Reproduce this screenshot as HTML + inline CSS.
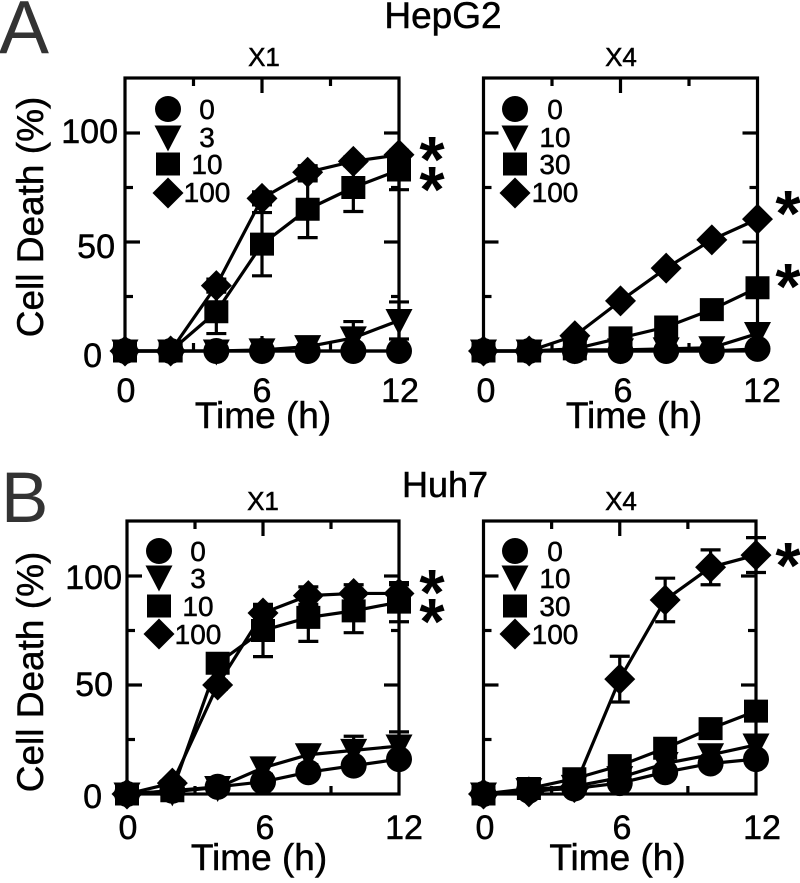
<!DOCTYPE html>
<html>
<head>
<meta charset="utf-8">
<title>Cell Death Time Course</title>
<style>
html,body{margin:0;padding:0;background:#fff;width:800px;height:883px;overflow:hidden}
svg{display:block}
text{font-family:"Liberation Sans",Arial,sans-serif;fill:#000;stroke:#000;stroke-width:.5px}
</style>
</head>
<body>
<svg id="figure" xmlns="http://www.w3.org/2000/svg" width="800" height="883" viewBox="0 0 800 883">
<rect x="0" y="0" width="800" height="883" fill="#fff"/>
<text x="-1" y="53" font-size="75" style="fill:#333;stroke:none">A</text>
<text x="1" y="522" font-size="71" style="fill:#333;stroke:none">B</text>
<text x="443" y="28" font-size="37" text-anchor="middle">HepG2</text>
<text x="445" y="497" font-size="36" text-anchor="middle">Huh7</text>
</svg>
<script>
// Shared axis values
const times = [0, 2, 4, 6, 8, 10, 12];
const xTickLabels = ['0', '6', '12'];
const yTickLabels = ['0', '50', '100'];

// HepG2 X1
const hepX1Doses = ['0', '3', '10', '100'];
const hepX1Dose0 = [0, 0, 0, 0, 0, 0, 0];
const hepX1Dose3 = [0, 0, 0, 0.5, 2, 6, 14];
const hepX1Dose10 = [0, 0, 18, 49, 65, 75, 83];
const hepX1Dose100 = [0, 0, 30, 70, 82, 87, 90];
const hepX1Err0 = [0, 0, 0, 0, 0, 0, 0];
const hepX1Err3 = [0, 0, 0, 1, 3.5, 7.5, 8.5];
const hepX1Err10 = [0, 0, 10, 14.5, 13, 11, 9];
const hepX1Err100 = [0, 0, 3, 3, 3, 2, 2];

// HepG2 X4
const hepX4Doses = ['0', '10', '30', '100'];
const hepX4Dose0 = [0, 0, 0, 0, 0, 0, 1];
const hepX4Dose10 = [0, 0, 0.5, 0.5, 1, 1.5, 8];
const hepX4Dose30 = [0, 0, 1, 6, 11, 19, 29];
const hepX4Dose100 = [0, 0, 7, 23, 38, 51, 60.5];
const hepX4Err0 = [0, 0, 0, 0, 0, 0, 0];
const hepX4Err10 = [0, 0, 0, 0, 0, 0, 0];
const hepX4Err30 = [0, 0, 0, 0, 0, 0, 0];
const hepX4Err100 = [0, 0, 0, 0, 0, 0, 0];

// Huh7 X1
const huhX1Doses = ['0', '3', '10', '100'];
const huhX1Dose0 = [0, 1.5, 3.3, 5.6, 10, 13, 16];
const huhX1Dose3 = [0, 1, 3, 12, 18, 20, 22];
const huhX1Dose10 = [0, 1.5, 60, 75, 81, 84, 88];
const huhX1Dose100 = [0, 5, 50, 83, 91, 92, 92];
const huhX1Err0 = [0, 0.5, 0.5, 2, 3, 3, 3];
const huhX1Err3 = [0, 0, 1, 3, 4.5, 6.5, 6.5];
const huhX1Err10 = [0, 0, 3, 12, 11, 10, 9];
const huhX1Err100 = [0, 0, 2, 3, 4, 4, 4];

// Huh7 X4
const huhX4Doses = ['0', '10', '30', '100'];
const huhX4Dose0 = [0, 1.5, 2.5, 5, 10, 14, 16];
const huhX4Dose10 = [0, 2, 3.5, 7.5, 14, 18, 22.5];
const huhX4Dose30 = [0, 2.5, 7, 13, 21, 30, 38];
const huhX4Dose100 = [0, 1, 3, 52.7, 89, 104, 109.6];
const huhX4Err0 = [0, 0, 0, 0, 0, 0, 0];
const huhX4Err10 = [0, 0, 0, 0, 0, 0, 0];
const huhX4Err30 = [0, 0, 0, 0, 0, 0, 0];
const huhX4Err100 = [0, 0, 0, 10.5, 10, 8, 8];

const svg = document.getElementById('figure');
const NS = 'http://www.w3.org/2000/svg';
const SW = 3.2;

function mk(parent, tag, attrs, name) {
  const el = document.createElementNS(NS, tag);
  for (const k in attrs) el.setAttribute(k, attrs[k]);
  
  
  parent.appendChild(el);
  return el;
}

function label(parent, str, x, y, size, anchor, name) {
  const t = mk(parent, 'text', {x: x, y: y, 'font-size': size, 'text-anchor': anchor}, name);
  t.textContent = str;
  return t;
}

function marker(parent, kind, cx, cy, name) {
  if (kind === 0) return mk(parent, 'circle', {cx: cx, cy: cy, r: 13, fill: '#000'}, name);
  let pts;
  if (kind === 1) pts = [[cx - 13.5, cy - 11.5], [cx + 13.5, cy - 11.5], [cx, cy + 14.5]];
  if (kind === 2) pts = [[cx - 12, cy - 11.5], [cx + 12, cy - 11.5], [cx + 12, cy + 11.5], [cx - 12, cy + 11.5]];
  if (kind === 3) pts = [[cx - 15.5, cy], [cx, cy - 15.5], [cx + 15.5, cy], [cx, cy + 15.5]];
  return mk(parent, 'polygon', {points: pts.map(p => p.join(',')).join(' '), fill: '#000', 'stroke-linejoin': 'round'}, name);
}

const kindNames = ['circle', 'triangle', 'square', 'diamond'];

function drawPanel(p) {
  const g = mk(svg, 'g', {}, p.id + '-panel');
  const xS = v => p.left + (v / 12) * (p.right - p.left);
  const yS = v => p.bottom - (v / 100) * (p.bottom - p.y100);

  mk(g, 'rect', {x: p.left, y: p.top, width: p.right - p.left, height: p.bottom - p.top, fill: 'none', stroke: '#000', 'stroke-width': SW}, p.id + '-plot-frame');

  // ticks
  [3, 6, 9].forEach(function (t) {
    const len = t === 6 ? 15 : 8;
    mk(g, 'line', {x1: xS(t), x2: xS(t), y1: p.top, y2: p.top + len, stroke: '#000', 'stroke-width': SW}, p.id + '-top-tick');
    mk(g, 'line', {x1: xS(t), x2: xS(t), y1: p.bottom, y2: p.bottom - len, stroke: '#000', 'stroke-width': SW}, p.id + '-bottom-tick');
  });
  [25, 50, 75, 100].forEach(function (v) {
    const len = v % 50 === 0 ? 15 : 8;
    mk(g, 'line', {x1: p.left, x2: p.left + len, y1: yS(v), y2: yS(v), stroke: '#000', 'stroke-width': SW}, p.id + '-left-tick');
    mk(g, 'line', {x1: p.right, x2: p.right - len, y1: yS(v), y2: yS(v), stroke: '#000', 'stroke-width': SW}, p.id + '-right-tick');
  });

  // axis text
  xTickLabels.forEach(function (s, i) {
    label(g, s, p.xLabelX[i], p.xLabelBase, 34, 'middle', p.id + '-x-tick-label');
  });
  if (p.yLabelRight) {
    yTickLabels.forEach(function (s, i) {
      label(g, s, p.yLabelRight[i], p.yLabelBase[i], 34, 'end', p.id + '-y-tick-label');
    });
    const yt = label(g, 'Cell Death (%)', 0, 0, 37, 'middle', p.id + '-y-axis-title');
    yt.setAttribute('transform', 'translate(' + p.yTitleX + ',' + p.yTitleY + ') rotate(-90)');
  }
  label(g, 'Time (h)', p.timeX, p.timeBase, 37, 'middle', p.id + '-x-axis-title');
  label(g, p.title, p.titleX, p.titleBase, 26, 'middle', p.id + '-subtitle');

  // series
  p.series.forEach(function (vals, k) {
    const errs = p.errors[k];
    const sg = mk(g, 'g', {}, p.id + '-series-' + kindNames[k]);
    vals.forEach(function (v, i) {
      if (errs[i] <= 0) return;
      const x = xS(times[i]);
      mk(sg, 'line', {x1: x, x2: x, y1: yS(v - errs[i]), y2: yS(v + errs[i]), stroke: '#000', 'stroke-width': SW}, 'error-bar');
      mk(sg, 'line', {x1: x - 10, x2: x + 10, y1: yS(v + errs[i]), y2: yS(v + errs[i]), stroke: '#000', 'stroke-width': SW}, 'error-cap-upper');
      mk(sg, 'line', {x1: x - 10, x2: x + 10, y1: yS(v - errs[i]), y2: yS(v - errs[i]), stroke: '#000', 'stroke-width': SW}, 'error-cap-lower');
    });
    mk(sg, 'polyline', {points: vals.map((v, i) => xS(times[i]) + ',' + yS(v)).join(' '), fill: 'none', stroke: '#000', 'stroke-width': SW}, 'series-line');
    vals.forEach(function (v, i) {
      marker(sg, k, xS(times[i]), yS(v), 'point-' + kindNames[k]);
    });
  });

  // legend
  const lg = mk(g, 'g', {}, p.id + '-legend');
  p.doses.forEach(function (d, k) {
    marker(lg, k, p.legendX, p.legendY[k], 'legend-marker-' + kindNames[k]);
    label(lg, d, p.legendTextX, p.legendBase[k], 28, 'middle', 'legend-label');
  });

  // significance stars
  p.stars.forEach(function (s) {
    const st = label(g, '*', s[0], s[1] + 31, 65, 'middle', 'significance-asterisk');
    st.setAttribute('font-weight', 'bold');
    st.style.strokeWidth = '0';
  });
}

drawPanel({
  id: 'hepg2-x1', title: 'X1', titleX: 264, titleBase: 66,
  left: 125, right: 399, top: 78, bottom: 351, y100: 133,
  series: [hepX1Dose0, hepX1Dose3, hepX1Dose10, hepX1Dose100],
  errors: [hepX1Err0, hepX1Err3, hepX1Err10, hepX1Err100],
  doses: hepX1Doses,
  xLabelX: [126, 262, 400], xLabelBase: 402,
  yLabelRight: [102, 115, 118], yLabelBase: [367, 258, 143],
  yTitleX: 43, yTitleY: 217,
  timeX: 263, timeBase: 428,
  legendX: 168, legendY: [109, 137, 164, 193], legendTextX: 207, legendBase: [119, 147, 174, 202],
  stars: [[432, 151], [432, 181]]
});
drawPanel({
  id: 'hepg2-x4', title: 'X4', titleX: 621, titleBase: 66,
  left: 483.5, right: 757.5, top: 78, bottom: 351, y100: 133,
  series: [hepX4Dose0, hepX4Dose10, hepX4Dose30, hepX4Dose100],
  errors: [hepX4Err0, hepX4Err10, hepX4Err30, hepX4Err100],
  doses: hepX4Doses,
  xLabelX: [486, 623, 762], xLabelBase: 402,
  timeX: 634, timeBase: 428,
  legendX: 515, legendY: [109, 137, 164, 193], legendTextX: 555, legendBase: [119, 147, 174, 202],
  stars: [[788, 205], [788, 278]]
});
drawPanel({
  id: 'huh7-x1', title: 'X1', titleX: 263, titleBase: 510,
  left: 127, right: 399, top: 521, bottom: 794, y100: 576,
  series: [huhX1Dose0, huhX1Dose3, huhX1Dose10, huhX1Dose100],
  errors: [huhX1Err0, huhX1Err3, huhX1Err10, huhX1Err100],
  doses: huhX1Doses,
  xLabelX: [128, 265, 404], xLabelBase: 839,
  yLabelRight: [102, 113, 122], yLabelBase: [808, 696, 589],
  yTitleX: 43, yTitleY: 672,
  timeX: 259, timeBase: 870,
  legendX: 159, legendY: [551, 577, 606, 634], legendTextX: 198, legendBase: [561, 588, 616, 644],
  stars: [[432, 584], [432, 613]]
});
drawPanel({
  id: 'huh7-x4', title: 'X4', titleX: 621, titleBase: 510,
  left: 483.5, right: 756, top: 521, bottom: 794, y100: 576,
  series: [huhX4Dose0, huhX4Dose10, huhX4Dose30, huhX4Dose100],
  errors: [huhX4Err0, huhX4Err10, huhX4Err30, huhX4Err100],
  doses: huhX4Doses,
  xLabelX: [485, 622, 762], xLabelBase: 839,
  timeX: 617.5, timeBase: 870,
  legendX: 515, legendY: [551, 577, 606, 634], legendTextX: 555, legendBase: [561, 588, 616, 644],
  stars: [[788, 557]]
});
</script>
</body>
</html>
